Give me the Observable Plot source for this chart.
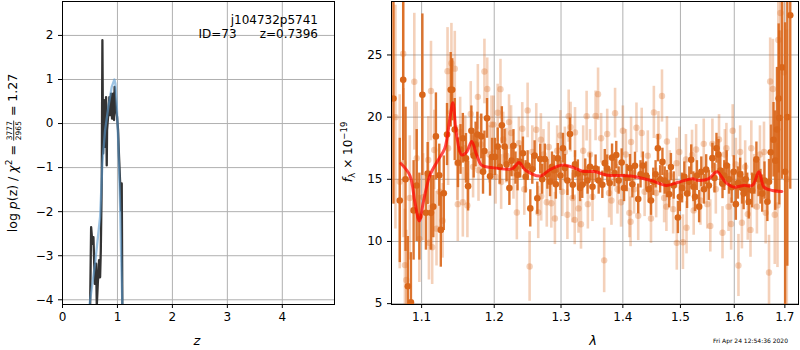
<!DOCTYPE html>
<html><head><meta charset="utf-8">
<script src="https://cdn.jsdelivr.net/npm/d3@7"></script>
<script src="https://cdn.jsdelivr.net/npm/@observablehq/plot@0.6"></script>
<style>
body{margin:0;background:#fff;font-family:"DejaVu Sans",sans-serif;}
#wrap{position:relative;width:800px;height:350px;overflow:hidden;background:#fff;}
#left,#right{position:absolute;top:0;}
#left{left:0;} #right{left:340px;}
#ov{position:absolute;left:0;top:0;pointer-events:none;}
</style></head><body>
<div id="wrap"><div id="left"></div><div id="right"></div><svg id="ov" width="800" height="350"></svg></div>
<script>
// ---------- Left panel: log p(z) ----------
const zTicks = [0, 1, 2, 3, 4];
const logpTicks = [-4, -3, -2, -1, 0, 1, 2];
const zChi = [0.503,0.521,0.545,0.563,0.588,0.612,0.624,0.642,0.666,0.684,0.697,0.715,0.726,0.739,0.757,0.775,0.793,0.805,0.811,0.829,0.842,0.853,0.866,0.884,0.902,0.92,0.938,0.948,0.957,0.975,0.993,1.011,1.029,1.047,1.065,1.078,1.089];
const logpChi = [-4.13,-2.35,-2.73,-2.58,-3.64,-3.18,-4.13,-3.64,-3.1,-3.49,-2.88,-1.21,1.89,-0.68,0.53,-0.53,0.6,-0.95,-0.15,0.15,0.38,0.6,0.19,0.68,0.11,0.68,0.08,0.83,0.6,0.3,0.15,-0.15,-0.76,-1.29,-1.97,-1.36,-4.13];
const zFit = [0.49,0.593,0.684,0.726,0.775,0.835,0.896,0.945,0.962,0.987,1.016,1.047,1.071,1.089];
const logpFit = [-4.13,-3.18,-2.12,-0.91,-0.15,0.38,0.83,1.0,0.91,0.45,-0.45,-1.82,-3.18,-4.13];

// ---------- Right panel: spectrum ----------
const lamTicks = [1.1, 1.2, 1.3, 1.4, 1.5, 1.6, 1.7];
const fluxTicks = [5, 10, 15, 20, 25];
const lamD = [1.0635,1.0716,1.076,1.079,1.082,1.086,1.0895,1.0935,1.097,1.101,1.1057,1.108,1.1124,1.1155,1.119,1.1235,1.1256,1.1296,1.134,1.139,1.1411,1.1445,1.149,1.1525,1.1557,1.16,1.163,1.1676,1.1708,1.1735,1.176,1.1815,1.184,1.186,1.1897,1.194,1.197,1.201,1.205,1.208,1.211,1.215,1.218,1.222,1.225,1.228,1.231,1.234,1.238,1.242,1.246,1.249,1.253,1.256,1.2595,1.2636,1.268,1.271,1.275,1.279,1.283,1.286,1.289,1.292,1.295,1.299,1.303,1.306,1.31,1.314,1.3185,1.322,1.3265,1.33,1.3335,1.3383,1.342,1.346,1.35,1.355,1.36,1.366,1.37,1.374,1.378,1.382,1.386,1.389,1.393,1.398,1.402,1.4065,1.412,1.416,1.4205,1.426,1.43,1.434,1.4395,1.444,1.448,1.452,1.456,1.46,1.464,1.468,1.472,1.476,1.48,1.483,1.488,1.4955,1.499,1.503,1.507,1.512,1.516,1.5195,1.5235,1.5265,1.53,1.534,1.538,1.543,1.547,1.552,1.5586,1.5625,1.5662,1.57,1.5735,1.5776,1.581,1.5854,1.59,1.595,1.599,1.603,1.607,1.6113,1.615,1.618,1.622,1.625,1.628,1.6345,1.639,1.643,1.647,1.651,1.6545,1.659,1.6647,1.668,1.6715,1.677,1.6805,1.684,1.6874,1.6888,1.694,1.7005,1.705,1.711];
const fluxD = [21.5,13.3,23.0,15.0,6.4,5.1,12.5,14.5,12.0,21.8,12.3,15.46,12.3,12.8,18.45,15.33,10.93,13.88,18.6,22.2,22.2,19.0,16.33,17.4,18.3,16.68,14.45,18.9,16.9,17.8,18.6,18.45,15.6,17.28,19.9,15.24,16.8,16.8,17.63,16.0,19.34,17.63,16.2,14.3,16.5,17.7,15.9,15.37,16.4,17.1,15.2,16.1,12.66,15.8,16.9,13.48,16.63,15.0,16.63,15.4,14.8,16.0,15.73,14.6,16.68,15.3,17.5,15.9,14.9,18.64,14.56,16.2,15.46,14.3,14.56,15.54,14.9,16.0,14.4,15.86,14.9,14.56,16.3,15.86,14.7,16.74,15.5,16.95,14.9,16.35,14.3,15.1,15.9,14.6,16.08,13.42,15.4,16.1,15.3,14.2,13.3,14.8,15.4,17.5,15.0,16.4,14.9,14.62,13.8,15.98,14.5,11.93,13.6,14.3,15.2,13.85,14.8,16.57,14.4,13.6,15.3,12.8,15.6,14.2,15.78,14.5,16.7,15.1,17.5,17.0,15.7,14.64,15.3,16.1,15.0,14.37,15.6,13.0,14.7,15.4,14.3,13.85,15.0,14.2,13.2,14.1,15.2,16.6,15.0,14.4,13.85,14.9,13.2,14.8,17.17,18.18,16.5,19.0,21.5,19.94,24.0,15.6,20.0,28.2];
const errD = [8.5,5,6.5,5.8,4,4,4,4.5,3.5,6.5,3,2.5,3,2.5,3.5,2.5,3,3,2.5,3,2.5,2.5,2,2,2,2,2,2,1.8,1.8,1.8,1.8,1.8,1.6,1.6,1.6,1.5,1.5,1.5,1.4,1.5,1.4,1.4,1.4,1.3,1.3,1.3,1.3,1.3,1.3,1.3,1.2,1.5,1.2,1.2,1.3,1.2,1.2,1.2,1.2,1.2,1.2,1.2,1.2,1.2,1.2,1.2,1.1,1.2,1.3,1.2,1.1,1.1,1.1,1.1,1.1,1.1,1.1,1.1,1.1,1.1,1.1,1.1,1.1,1.1,1.1,1.1,1.1,1.1,1.1,1.1,1.1,1.1,1.1,1.1,1.2,1.1,1.1,1.1,1.1,1.2,1.1,1.1,1.1,1.1,1.1,1.1,1.1,1.1,1.1,1.1,1.3,1.2,1.2,1.2,1.2,1.2,1.2,1.2,1.2,1.2,1.3,1.2,1.2,1.2,1.2,1.2,1.2,1.2,1.2,1.2,1.2,1.2,1.2,1.2,1.3,1.3,1.3,1.3,1.3,1.3,1.3,1.3,1.3,1.4,1.4,1.4,1.4,1.4,1.4,1.5,1.5,1.6,1.8,2.2,3,4,5,6,7,9,12,12,14];
const lamL = [1.066,1.0715,1.076,1.0764,1.0782,1.08,1.0845,1.0904,1.0935,1.097,1.102,1.1088,1.1097,1.1124,1.114,1.1168,1.1198,1.124,1.128,1.1347,1.1355,1.14,1.1446,1.148,1.1487,1.152,1.1557,1.159,1.162,1.1667,1.17,1.1767,1.1776,1.181,1.186,1.19,1.193,1.196,1.199,1.202,1.205,1.209,1.21,1.213,1.2175,1.2215,1.2245,1.228,1.233,1.236,1.241,1.244,1.249,1.252,1.256,1.262,1.265,1.269,1.2695,1.273,1.278,1.281,1.285,1.2905,1.294,1.299,1.302,1.306,1.31,1.312,1.315,1.318,1.3215,1.322,1.3275,1.3315,1.335,1.3405,1.3425,1.346,1.35,1.355,1.359,1.364,1.369,1.374,1.377,1.381,1.387,1.391,1.397,1.4,1.405,1.411,1.413,1.4138,1.419,1.423,1.426,1.432,1.437,1.4425,1.448,1.453,1.457,1.461,1.4672,1.471,1.475,1.476,1.481,1.487,1.493,1.4935,1.498,1.5045,1.51,1.511,1.521,1.524,1.5285,1.5365,1.5425,1.549,1.5547,1.5586,1.565,1.571,1.5776,1.582,1.585,1.589,1.594,1.597,1.603,1.608,1.6113,1.6147,1.621,1.626,1.6314,1.633,1.6385,1.644,1.65,1.658,1.6613,1.668,1.6703,1.6757,1.6795,1.685,1.6867,1.691,1.698,1.704];
const fluxL = [20.0,14.8,25.1,16.3,8.1,6.9,13.5,22.85,16.7,10.2,13.56,16.55,9.9,22.1,9.54,17.36,11.03,14.0,11.66,23.7,17.5,24.34,23.9,16.3,13.0,18.8,13.15,17.5,12.9,20.26,16.0,21.63,15.73,17.8,23.67,22.26,17.0,19.4,19.4,15.2,20.35,22.25,14.78,18.2,16.9,19.6,18.72,15.5,12.33,17.9,19.07,14.2,20.54,7.99,17.2,18.99,12.33,18.18,13.64,17.0,13.15,17.6,13.07,11.85,17.3,18.53,14.0,17.2,12.15,20.08,19.2,13.5,11.74,18.77,12.66,11.38,17.3,20.08,13.0,17.0,13.6,20.1,21.85,18.3,8.48,18.64,13.9,13.3,20.32,14.2,13.15,18.9,17.0,12.3,11.58,18.0,14.2,19.14,12.07,18.72,14.0,16.9,11.85,20.38,13.9,18.45,21.7,13.5,12.8,18.04,15.3,12.6,16.3,9.89,17.2,9.94,16.6,11.1,16.95,12.5,17.4,13.3,17.85,13.0,11.25,17.85,14.2,18.2,10.7,17.0,17.5,12.8,11.4,18.9,16.2,8.07,17.2,11.5,16.0,12.2,10.93,17.5,14.8,12.8,17.0,17.2,12.3,7.5,22.87,22.26,12.15,12.9,26.2,28.37,23.6,15.0];
const errL = [9,7,7,6,4.5,4,5,5.5,4.5,3.5,3.5,3.5,3,4,3,3.2,3,3,3,3.5,3,3.2,3,3,3,2.8,2.8,2.6,2.6,2.6,2.5,2.6,2.5,2.4,2.6,2.5,2.3,2.3,2.3,2.2,2.3,2.4,2.2,2.2,2.2,2.2,2.2,2.1,2.2,2.1,2.1,2.1,2.2,2.8,2.1,2.1,2.1,2.1,2.0,2.0,2.0,2.0,2.0,2.1,2.0,2.0,2.0,2.0,2.0,2.1,2.0,2.0,2.0,2.0,2.0,2.0,2.0,2.0,2.0,2.0,2.0,2.0,2.1,2.0,2.6,2.0,2.0,2.0,2.0,2.0,2.0,2.0,2.0,2.0,2.0,2.0,2.0,2.0,2.0,2.0,2.0,2.0,2.0,2.1,2.0,2.0,2.1,2.0,2.0,2.0,2.0,2.0,2.0,2.2,2.0,2.2,2.0,2.1,2.0,2.0,2.0,2.0,2.0,2.0,2.1,2.0,2.0,2.0,2.1,2.0,2.0,2.0,2.1,2.1,2.1,2.5,2.1,2.1,2.1,2.1,2.2,2.2,2.2,2.2,2.3,2.4,2.5,3,3.5,4,4,5,6,7,8,12];
const lamM = [1.073,1.0847,1.0912,1.097,1.1022,1.111,1.122,1.131,1.138,1.142,1.147,1.154,1.161,1.168,1.175,1.182,1.196,1.2266,1.236,1.246,1.268,1.283,1.303,1.319,1.334,1.353,1.374,1.413,1.447,1.475,1.498,1.522,1.531,1.552,1.567,1.583,1.599,1.618,1.635,1.648,1.658,1.675,1.694];
const fluxM = [16.27,15.3,13.15,11.66,13.15,15.33,16.55,17.5,19.94,21.16,18.59,16.96,17.2,18.04,16.96,16.14,15.95,15.86,16.35,15.73,15.27,15.78,16.14,15.95,15.65,15.62,15.33,15.27,14.92,14.51,14.78,15.05,14.92,15.05,15.6,14.78,14.37,14.51,14.51,15.6,14.37,14.1,14.02];

const chiData = zChi.map((z, i) => ({z, v: logpChi[i]}));
const fitData = zFit.map((z, i) => ({z, v: logpFit[i]}));
const darkData = lamD.map((l, i) => ({l, f: fluxD[i], e: errD[i]}));
const lightData = lamL.map((l, i) => ({l, f: fluxL[i], e: errL[i]}));
const modelData = lamM.map((l, i) => ({l, f: fluxM[i]}));

const minus = d => (d < 0 ? "\u2212" + Math.abs(d) : String(d));
const grid = {stroke: "#b0b0b0", strokeOpacity: 1, strokeWidth: 1};
const style = {fontFamily: "DejaVu Sans", fontSize: "12px", color: "#000", background: "transparent", overflow: "visible"};

const leftPlot = Plot.plot({
  width: 340, height: 350, marginLeft: 62, marginRight: 6, marginTop: 1, marginBottom: 46,
  style,
  x: {domain: [0, 4.95], ticks: zTicks, tickFormat: d => String(d), tickSize: 4, tickPadding: 4, label: null},
  y: {domain: [-4.107, 2.77], ticks: logpTicks, tickSize: 4, tickPadding: 5, label: null, tickFormat: minus},
  marks: [
    Plot.gridX(zTicks, grid),
    Plot.gridY(logpTicks, grid),
    Plot.line(chiData, {x: "z", y: "v", stroke: "#333333", strokeWidth: 2.3, clip: true}),
    Plot.line(fitData, {x: "z", y: "v", stroke: "#5a9bd0", strokeOpacity: 0.6, strokeWidth: 2.3, clip: true}),
    Plot.frame({stroke: "#000", strokeWidth: 1})
  ]
});
document.getElementById("left").appendChild(leftPlot);

const orange = "#d9661a";
const rightPlot = Plot.plot({
  width: 460, height: 350, marginLeft: 51, marginRight: 2, marginTop: 1, marginBottom: 46,
  style,
  x: {type: "log", domain: [1.061, 1.728], ticks: lamTicks, tickFormat: d => d.toFixed(1), tickSize: 4, tickPadding: 4, label: null},
  y: {domain: [4.93, 29.3], ticks: fluxTicks, tickSize: 4, tickPadding: 5, label: null},
  marks: [
    Plot.gridX(lamTicks, grid),
    Plot.gridY(fluxTicks, grid),
    Plot.ruleX(lightData, {x: "l", y1: d => d.f - d.e, y2: d => d.f + d.e, stroke: orange, strokeOpacity: 0.3, strokeWidth: 2.6, clip: true}),
    Plot.dot(lightData, {x: "l", y: "f", r: 3.2, fill: orange, fillOpacity: 0.3, clip: true}),
    Plot.ruleX(darkData, {x: "l", y1: d => d.f - d.e, y2: d => d.f + d.e, stroke: orange, strokeOpacity: 0.9, strokeWidth: 2.4, clip: true}),
    Plot.dot(darkData, {x: "l", y: "f", r: 3.3, fill: orange, clip: true}),
    Plot.line(modelData, {x: "l", y: "f", stroke: "#ff0000", strokeOpacity: 0.7, strokeWidth: 3, curve: "catmull-rom", clip: true}),
    Plot.frame({stroke: "#000", strokeWidth: 1})
  ]
});
document.getElementById("right").appendChild(rightPlot);

// ---------- Text overlay ----------
const ov = d3.select("#ov").style("font-family", "DejaVu Sans").style("fill", "#000");

function rotatedLabel(pieces, bx, cy) {
  const g = ov.append("g");
  let cur = 0;
  for (const p of pieces) {
    if (p.frac) {
      const fs = p.size;
      const t1 = g.append("text").attr("font-size", fs).attr("y", -4.2).text(p.num);
      const t2 = g.append("text").attr("font-size", fs).attr("y", 4.2).text(p.den);
      const w = Math.max(t1.node().getComputedTextLength(), t2.node().getComputedTextLength()) + 2;
      t1.attr("x", cur + w / 2).attr("text-anchor", "middle");
      t2.attr("x", cur + w / 2).attr("text-anchor", "middle");
      g.append("line").attr("x1", cur + 0.5).attr("x2", cur + w - 0.5).attr("y1", -2.8).attr("y2", -2.8).attr("stroke", "#000").attr("stroke-width", 0.8);
      cur += w;
    } else {
      const t = g.append("text").attr("x", cur).attr("y", p.dy || 0).attr("font-size", p.size || 12.5)
        .attr("font-style", p.italic ? "italic" : null).style("white-space", "pre").text(p.t);
      cur += t.node().getComputedTextLength();
    }
  }
  g.attr("transform", `translate(${bx},${cy + cur / 2}) rotate(-90)`);
}

rotatedLabel([
  {t: "log "}, {t: "p", italic: true}, {t: "(z) / "}, {t: "\u03c7", italic: true},
  {t: "2", size: 9, dy: -5}, {t: " = "}, {frac: true, num: "3777", den: "2965", size: 7.5}, {t: " = 1.27"}
], 16.5, 153);

rotatedLabel([
  {t: "f", italic: true}, {t: "\u03bb", size: 9, dy: 3}, {t: " \u00d7 10", size: 12}, {t: "\u221219", size: 8.5, dy: -5}
], 352, 152);

ov.append("text").attr("x", 197).attr("y", 345).attr("text-anchor", "middle").attr("font-size", 13).attr("font-style", "italic").text("z");
ov.append("text").attr("x", 593).attr("y", 345).attr("text-anchor", "middle").attr("font-size", 13).attr("font-style", "italic").text("\u03bb");

ov.append("text").attr("x", 318).attr("y", 23.5).attr("text-anchor", "end").attr("font-size", 12).text("j104732p5741");
ov.append("text").attr("x", 198.5).attr("y", 37.5).attr("font-size", 12).text("ID=73");
ov.append("text").attr("x", 318).attr("y", 37.5).attr("text-anchor", "end").attr("font-size", 12).text("z=0.7396");

ov.append("text").attr("x", 788).attr("y", 342.5).attr("text-anchor", "end").attr("font-size", 6).text("Fri Apr 24 12:54:36 2020");
</script>
</body></html>
